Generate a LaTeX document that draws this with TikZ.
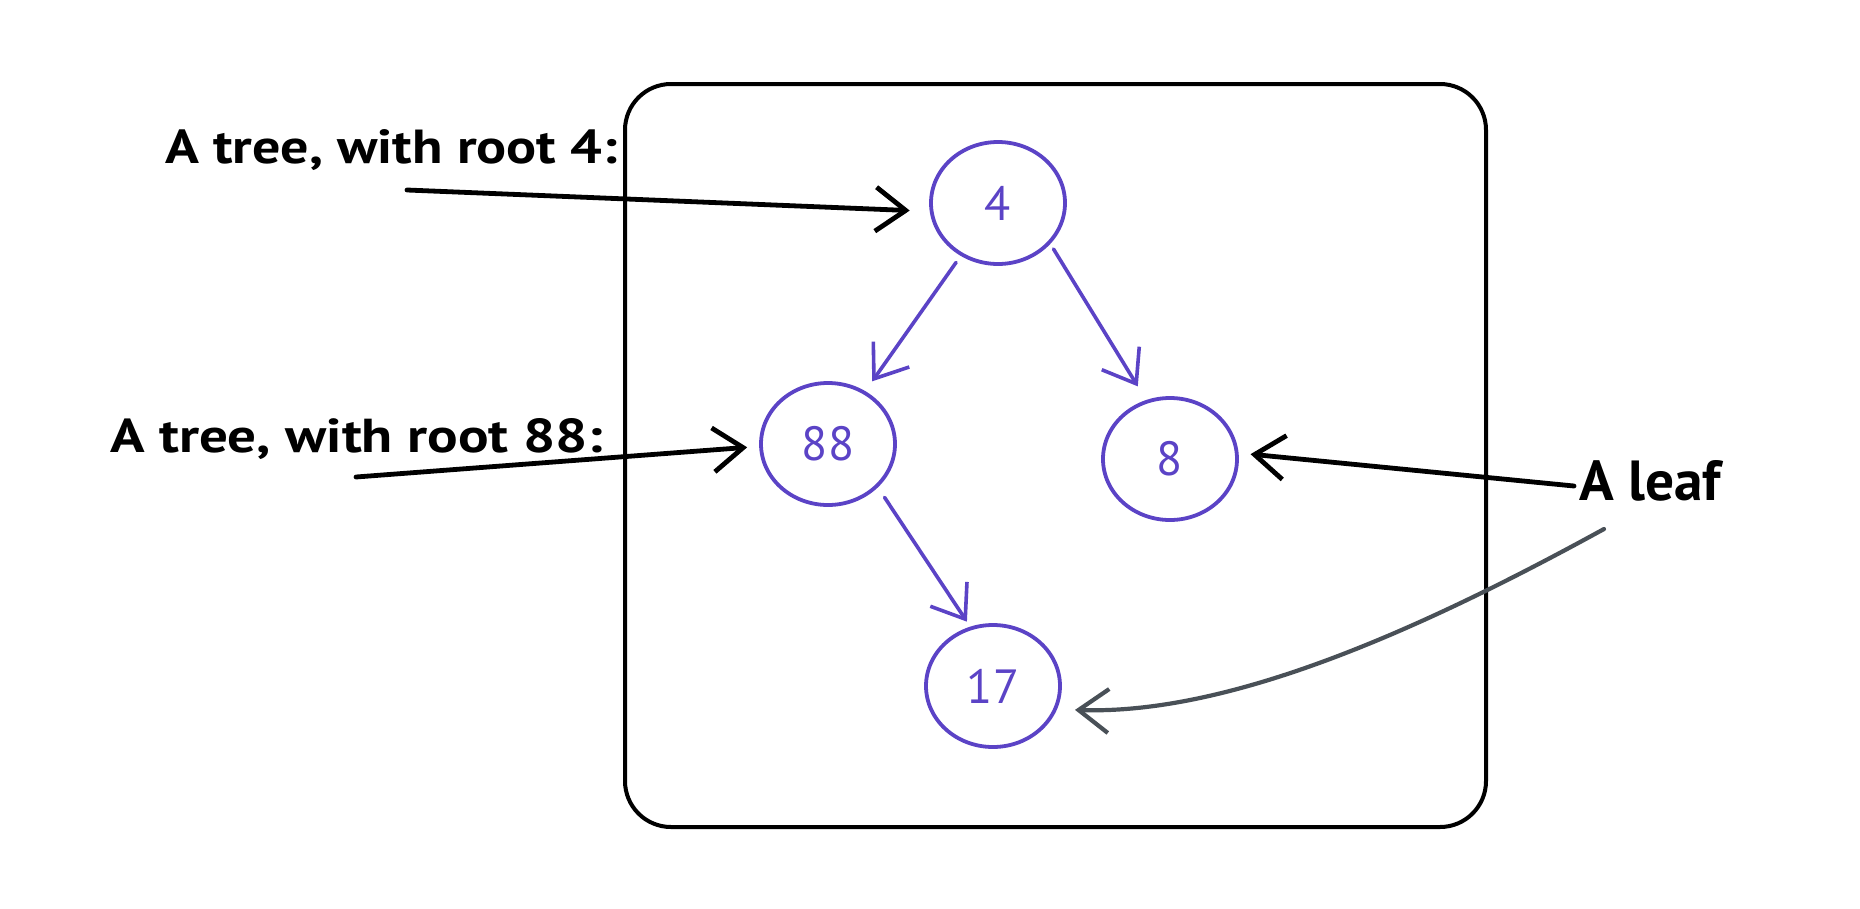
\documentclass[tikz,border=0pt]{standalone}
\usepackage{fontspec}
\setmainfont{PT Sans}
\usetikzlibrary{arrows.meta,shapes.geometric}
\definecolor{treepurple}{HTML}{5B43C6}
\definecolor{leafgray}{HTML}{495057}
\tikzset{
  treenode/.style={ellipse, draw=treepurple, line width=3.8pt, minimum width=134pt, minimum height=122pt, inner sep=0pt, text=treepurple, font=\fontsize{48}{48}\selectfont},
  barb/.style={-{Straight Barb[length=30pt,width=44pt]}},
  blackarrow/.style={barb, draw=black, line width=4.8pt, line cap=round},
  purplearrow/.style={barb, draw=treepurple, line width=3.6pt, line cap=round},
  grayarrow/.style={barb, draw=leafgray, line width=4.2pt, line cap=round},
  labeltext/.style={anchor=base west, inner sep=0pt, text=black, font=\bfseries},
}
\begin{document}
\begin{tikzpicture}[x=1pt,y=-1pt]
\useasboundingbox (0,0) rectangle (1860,908);
\fill[white] (0,0) rectangle (1860,908);
\draw[line width=4pt, rounded corners=46pt] (625,84) rectangle (1486,827);

\node[treenode] (n4) at (998,203) {4};
\node[treenode] (n88) at (828,444) {88};
\node[treenode] (n8) at (1170,459) {8};
\node[treenode] (n17) at (993,686) {17};

\node[labeltext] (t4) at (165,163) {\resizebox{452pt}{34pt}{A tree, with root 4:}};
\node[labeltext] (t88) at (110,452) {\resizebox{493pt}{34pt}{A tree, with root 88:}};
\node[labeltext] (tleaf) at (1579,500) {\resizebox{142pt}{40pt}{A leaf}};

\coordinate (s4) at (407,190);
\coordinate (s88) at (356,477);
\coordinate (sleafa) at (1574,486);
\coordinate (sleafb) at (1604,529);

\draw[blackarrow, shorten >=20pt] (s4) -- (n4.187);
\draw[blackarrow, shorten >=12pt] (s88) -- (n88.182);
\draw[purplearrow, shorten <=8pt, shorten >=12pt] (n4) -- (n88);
\draw[purplearrow, shorten <=6pt, shorten >=16pt] (n4.-38) -- (n8.112);
\draw[purplearrow, shorten <=12pt, shorten >=6pt] (n88.-41) -- (n17.111);
\draw[blackarrow, shorten >=12pt] (sleafa) -- (n8.5);
\draw[grayarrow, shorten >=18pt] (sleafb) .. controls (1420,630) and (1230,715) .. (n17.-20);
\end{tikzpicture}
\end{document}
